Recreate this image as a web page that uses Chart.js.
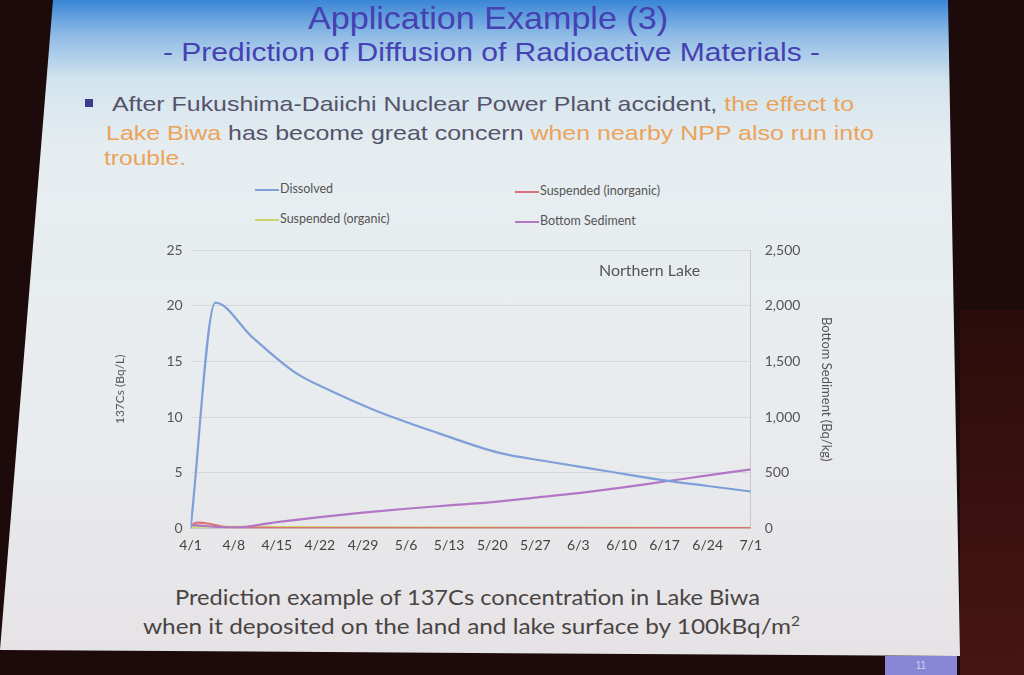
<!DOCTYPE html>
<html>
<head>
<meta charset="utf-8">
<script src="https://cdn.jsdelivr.net/npm/chart.js@4"></script>
<style>
  html, body { margin: 0; padding: 0; }
  body { width: 1024px; height: 675px; background: #1c0b0a; position: relative; overflow: hidden; font-family: "Liberation Sans Narrow", "Liberation Sans", sans-serif; }
  #glow { position: absolute; left: 960px; top: 310px; width: 64px; height: 365px; background: linear-gradient(#2a0d0b, #471512); }
  #slide { position: absolute; left: 0; top: 0; width: 962px; height: 660px;
    clip-path: polygon(53px 0, 948px 0, 960px 656px, 0 650px);
    background: linear-gradient(#3a86d6 0px, #8fbbe6 35px, #d3e4ee 80px, #e6edf0 150px, #e9ecee 420px, #e6e3e6 650px); }
  #num { position: absolute; left: 885px; top: 656px; width: 72px; height: 19px; background: #8a86d6; color: #cfd0f0; font-size: 10px; text-align: center; line-height: 19px; }
  .fit { position: absolute; white-space: nowrap; transform-origin: 0 0; line-height: 1; }
  .ti { color: #4541b2; }
  .bl { font-size: 21px; color: #55536a; }
  .o { color: #eba35a; }
  #sq { position: absolute; left: 85px; top: 99px; width: 8px; height: 8px; background: #3c3a8c; }
  #legend { position: absolute; left: 255px; top: 181px; width: 520px; font-family: Lato, "Open Sans", sans-serif; font-size: 12.5px; color: #555; }
  #legend .it { position: absolute; white-space: nowrap; }
  #legend .ln { display: inline-block; width: 24px; height: 2px; vertical-align: middle; margin-right: 1px; }
  #wrap { position: absolute; left: 100px; top: 228px; width: 770px; height: 330px; }
  #lake { position: absolute; left: 599px; top: 260px; font-family: Lato, "Open Sans", sans-serif; font-size: 16px; color: #555; }
  .cap { font-family: Lato, "Open Sans", sans-serif; font-size: 22px; color: #4a4444; line-height: normal; }
</style>
</head>
<body>
<div id="glow"></div>
<div id="slide">
  <div class="fit ti" style="left:308px; top:2px; font-size:32px;" data-w="360">Application Example (3)</div>
  <div class="fit ti" style="left:163px; top:40px; font-size:25px;" data-w="657">- Prediction of Diffusion of Radioactive Materials -</div>
  <div id="sq"></div>
  <div class="fit bl" style="left:112px; top:93px;" data-w="742">After Fukushima-Daiichi Nuclear Power Plant accident, <span class="o">the effect to</span></div>
  <div class="fit bl" style="left:106px; top:122px;" data-w="768"><span class="o">Lake Biwa</span> has become great concern <span class="o">when nearby NPP also run into</span></div>
  <div class="fit bl" style="left:104px; top:147px;" data-w="82"><span class="o">trouble.</span></div>
  <div id="legend"></div>
  <div id="wrap"><canvas id="chart"></canvas></div>
  <div id="lake">Northern Lake</div>
  <div class="fit cap" style="left:175px; top:583px;" data-w="585">Prediction example of 137Cs concentration in Lake Biwa</div>
  <div class="fit cap" style="left:143px; top:612px;" data-w="657">when it deposited on the land and lake surface by 100kBq/m<sup style="font-size:14px;">2</sup></div>
</div>
<div id="num">11</div>
<script>
// x axis: days since 4/1, one tick a week
const tickLabels = ["4/1", "4/8", "4/15", "4/22", "4/29", "5/6", "5/13", "5/20", "5/27", "6/3", "6/10", "6/17", "6/24", "7/1"];

// Dissolved (Bq/L, left axis)
const dissolvedDays = [0, 4, 10, 17, 23, 30, 40, 50, 58, 68, 77, 84, 91];
const dissolvedVals = [0, 20.3, 17.2, 14.0, 12.3, 10.6, 8.6, 6.8, 6.0, 5.1, 4.3, 3.8, 3.3];

// Suspended (inorganic) (Bq/L, left axis)
const inorgDays = [0, 1, 3, 5, 7, 14, 28, 56, 91];
const inorgVals = [0.2, 0.5, 0.4, 0.15, 0.05, 0.02, 0.01, 0.01, 0.01];

// Suspended (organic) (Bq/L, left axis)
const orgDays = [0, 7, 28, 56, 91];
const orgVals = [0.15, 0.12, 0.08, 0.05, 0.03];

// Bottom Sediment (Bq/kg, right axis)
const sedDays = [0, 7, 14, 21, 28, 35, 42, 49, 56, 63, 70, 77, 84, 91];
const sedVals = [30, 5, 55, 100, 140, 175, 205, 235, 275, 315, 365, 420, 475, 530];

function pts(days, vals) {
    return days.map((d, i) => ({ x: d, y: vals[i] }));
}

// сжимаем строки текста до ширины как на слайде
document.querySelectorAll(".fit").forEach(el => {
    const w = el.getBoundingClientRect().width;
    const target = +el.dataset.w;
    if (w > 0 && target) el.style.transform = `scaleX(${target / w})`;
});

const datasets = [
    { label: "Dissolved", data: pts(dissolvedDays, dissolvedVals), borderColor: "#7f9fd9", yAxisID: "y", order: 1 },
    { label: "Suspended (inorganic)", data: pts(inorgDays, inorgVals), borderColor: "#dc7278", yAxisID: "y", order: 3 },
    { label: "Suspended (organic)", data: pts(orgDays, orgVals), borderColor: "#c6d46a", yAxisID: "y", order: 4 },
    { label: "Bottom Sediment", data: pts(sedDays, sedVals), borderColor: "#b276c6", yAxisID: "y2", order: 2 }
];
datasets.forEach(ds => {
    ds.borderWidth = 2.2;
    ds.pointRadius = 0;
    ds.fill = false;
    ds.cubicInterpolationMode = "monotone";
});

// legend laid out 2x2 like the slide
const legendPos = {
    "Dissolved": [0, 0],
    "Suspended (inorganic)": [260, 2],
    "Suspended (organic)": [0, 30],
    "Bottom Sediment": [260, 32]
};
const legendEl = document.getElementById("legend");
datasets.forEach(ds => {
    const p = legendPos[ds.label];
    const it = document.createElement("div");
    it.className = "it";
    it.style.left = p[0] + "px";
    it.style.top = p[1] + "px";
    it.innerHTML = `<span class="ln" style="background:${ds.borderColor}"></span>${ds.label}`;
    legendEl.appendChild(it);
});

const font = { family: "Lato, 'Open Sans', sans-serif", size: 14 };

new Chart(document.getElementById("chart"), {
    type: "line",
    data: { datasets },
    options: {
        responsive: true,
        maintainAspectRatio: false,
        animation: false,
        layout: { padding: { left: 9, right: 4, top: 1, bottom: 0 } },
        plugins: { legend: { display: false }, tooltip: { enabled: false } },
        scales: {
            x: {
                type: "linear",
                min: 0, max: 91,
                ticks: {
                    stepSize: 7,
                    color: "#444",
                    font: font,
                    maxRotation: 0,
                    autoSkip: false,
                    padding: 4,
                    callback: v => tickLabels[Math.round(v / 7)]
                },
                grid: { display: false, drawTicks: true, tickLength: 5 },
                border: { color: "#c8c8c8" }
            },
            y: {
                position: "left",
                min: 0, max: 25,
                ticks: { stepSize: 5, color: "#555", font: font, padding: 8 },
                grid: { color: "#d6d9db", drawTicks: false },
                border: { display: false },
                title: { display: true, text: "137Cs (Bq/L)", color: "#555", font: { family: font.family, size: 12 }, padding: { bottom: 31 } }
            },
            y2: {
                position: "right",
                min: 0, max: 2500,
                ticks: { stepSize: 500, color: "#555", font: font, padding: 14,
                    callback: v => v.toLocaleString("en-US") },
                grid: { display: false, drawTicks: false },
                border: { color: "#c8c8c8" },
                title: { display: true, text: "Bottom Sediment (Bq/kg)", color: "#555", font: { family: font.family, size: 13 }, padding: { top: 32 } }
            }
        }
    }
});
</script>
</body>
</html>
